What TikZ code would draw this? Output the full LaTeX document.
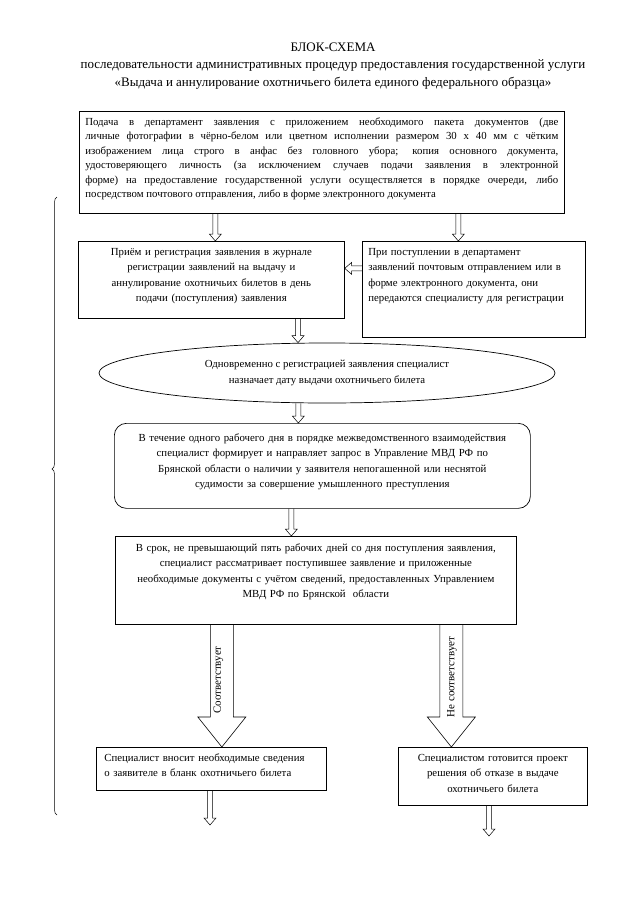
\documentclass[tikz,border=0pt]{standalone}
\usepackage{fontspec}
\setmainfont{Liberation Serif}
\usetikzlibrary{calc,shapes.geometric,decorations.pathreplacing}

\tikzset{
  block/.style={draw, line width=0.7pt, anchor=north west, inner xsep=6pt, inner ysep=3pt,
    text height=11pt, font=\fontsize{10.8}{15.5}\selectfont},
  oval/.style={draw, line width=0.7pt, ellipse, inner sep=0pt, align=center,
    font=\fontsize{10.8}{15.5}\selectfont},
  heading/.style={align=center, font=\fontsize{13}{17.5}\selectfont},
  tag/.style={rotate=90, inner sep=0pt, font=\fontsize{11}{13}\selectfont},
  vflow/.style n args={3}{to path={let \p1=(\tikztostart), \p2=(\tikztotarget) in
    (\x2-#1,\y1) -- (\x2-#1,\y2+#3) -- (\x2-#2,\y2+#3) -- (\x2,\y2)
    -- (\x2+#2,\y2+#3) -- (\x2+#1,\y2+#3) -- (\x2+#1,\y1)}},
  flow/.style={draw, line width=0.5pt, vflow={2.5pt}{6pt}{7pt}},
  bigflow/.style={draw, line width=0.6pt, vflow={11.5pt}{24pt}{30pt}},
  sideflow/.style={draw, line width=0.5pt, to path={let \p1=(\tikztostart), \p2=(\tikztotarget) in
    (\x1,\y2-2.5pt) -- (\x2+7pt,\y2-2.5pt) -- (\x2+7pt,\y2-6pt) -- (\x2,\y2)
    -- (\x2+7pt,\y2+6pt) -- (\x2+7pt,\y2+2.5pt) -- (\x1,\y2+2.5pt)}}
}

\begin{document}
\begin{tikzpicture}[x=1pt, y=-1pt]
  \useasboundingbox (0,0) rectangle (640,905);

  % Heading
  \node[heading] (title) at (333,66) {БЛОК-СХЕМА\\
    последовательности административных процедур предоставления государственной услуги\\
    «Выдача и аннулирование охотничьего билета единого федерального образца»};

  % Steps
  \node[block, text width=473pt, text depth=85pt, align=justify,
    font=\fontsize{10.8}{14.5}\selectfont] (submit) at (79,111)
    {Подача в департамент заявления с приложением необходимого пакета документов (две\linebreak
    личные фотографии в чёрно-белом или цветном исполнении размером 30 х 40 мм с чётким\linebreak
    изображением лица строго в анфас без головного убора; копия основного документа,\linebreak
    удостоверяющего личность (за исключением случаев подачи заявления в электронной\linebreak
    форме) на предоставление государственной услуги осуществляется в порядке очереди, либо\linebreak
    посредством почтового отправления, либо в форме электронного документа};
  \node[block, text width=254pt, text depth=60pt, align=center] (reg) at (78,241)
    {Приём и регистрация заявления в журнале\\
    регистрации заявлений на выдачу и\\
    аннулирование охотничьих билетов в день\\
    подачи (поступления) заявления};
  \node[block, inner xsep=6pt, text width=211pt, text depth=79pt, align=left] (post) at (362,241)
    {При поступлении в департамент\\
    заявлений почтовым отправлением или в\\
    форме электронного документа, они\\
    передаются специалисту для регистрации};
  \node[oval, minimum width=456pt, minimum height=60pt] (date) at (327,373)
    {Одновременно с регистрацией заявления специалист\\
    назначает дату выдачи охотничьего билета};
  \node[block, rounded corners=12pt, inner xsep=4pt, text width=408pt, text height=15pt,
    text depth=64pt, align=center] (request) at (114,423)
    {В течение одного рабочего дня в порядке межведомственного взаимодействия\\
    специалист формирует и направляет запрос в Управление МВД РФ по\\
    Брянской области о наличии у заявителя непогашенной или неснятой\\
    судимости за совершение умышленного преступления};
  \node[block, inner xsep=3pt, text width=395pt, text height=12pt, text depth=70pt,
    align=center] (review) at (115,536)
    {В срок, не превышающий пять рабочих дней со дня поступления заявления,\\
    специалист рассматривает поступившее заявление и приложенные\\
    необходимые документы с учётом сведений, предоставленных Управлением\\
    МВД РФ по Брянской~ области};
  \node[block, inner xsep=8pt, text width=214pt, text depth=26pt, align=left] (enter) at (96,747)
    {Специалист вносит необходимые сведения\\
    о заявителе в бланк охотничьего билета};
  \node[block, text width=177pt, text depth=41pt, align=center] (refuse) at (398,747)
    {Специалистом готовится проект\\
    решения об отказе в выдаче\\
    охотничьего билета};

  % Arrows
  \draw[flow] (submit.south) to ([xshift=4pt]reg.north);
  \draw[flow] (submit.south) to ([xshift=-15.5pt]post.north);
  \draw[sideflow] (post.west) to ([yshift=11.5pt]reg.east);
  \draw[flow] (reg.south) to ([xshift=-29pt]date.north);
  \draw[flow] (date.south) to ([xshift=-24pt]request.north);
  \draw[flow] (request.south) to ([xshift=-24.5pt]review.north);
  \draw[bigflow] (review.south) to ([xshift=10.5pt]enter.north);
  \draw[bigflow] (review.south) to ([xshift=-41.5pt]refuse.north);
  \node[tag] (yes) at (218.5,680) {Соответствует};
  \node[tag] (no) at (452,677) {Не соответствует};
  \coordinate (enterend) at (210,825);
  \coordinate (refuseend) at (489,836);
  \draw[flow] (enter.south) to (enterend);
  \draw[flow] (refuse.south) to (refuseend);

  % Brace
  \draw[line width=0.5pt, decorate, decoration={brace, amplitude=5pt, aspect=0.56}]
    (57,815) -- (57,197);
\end{tikzpicture}
\end{document}
